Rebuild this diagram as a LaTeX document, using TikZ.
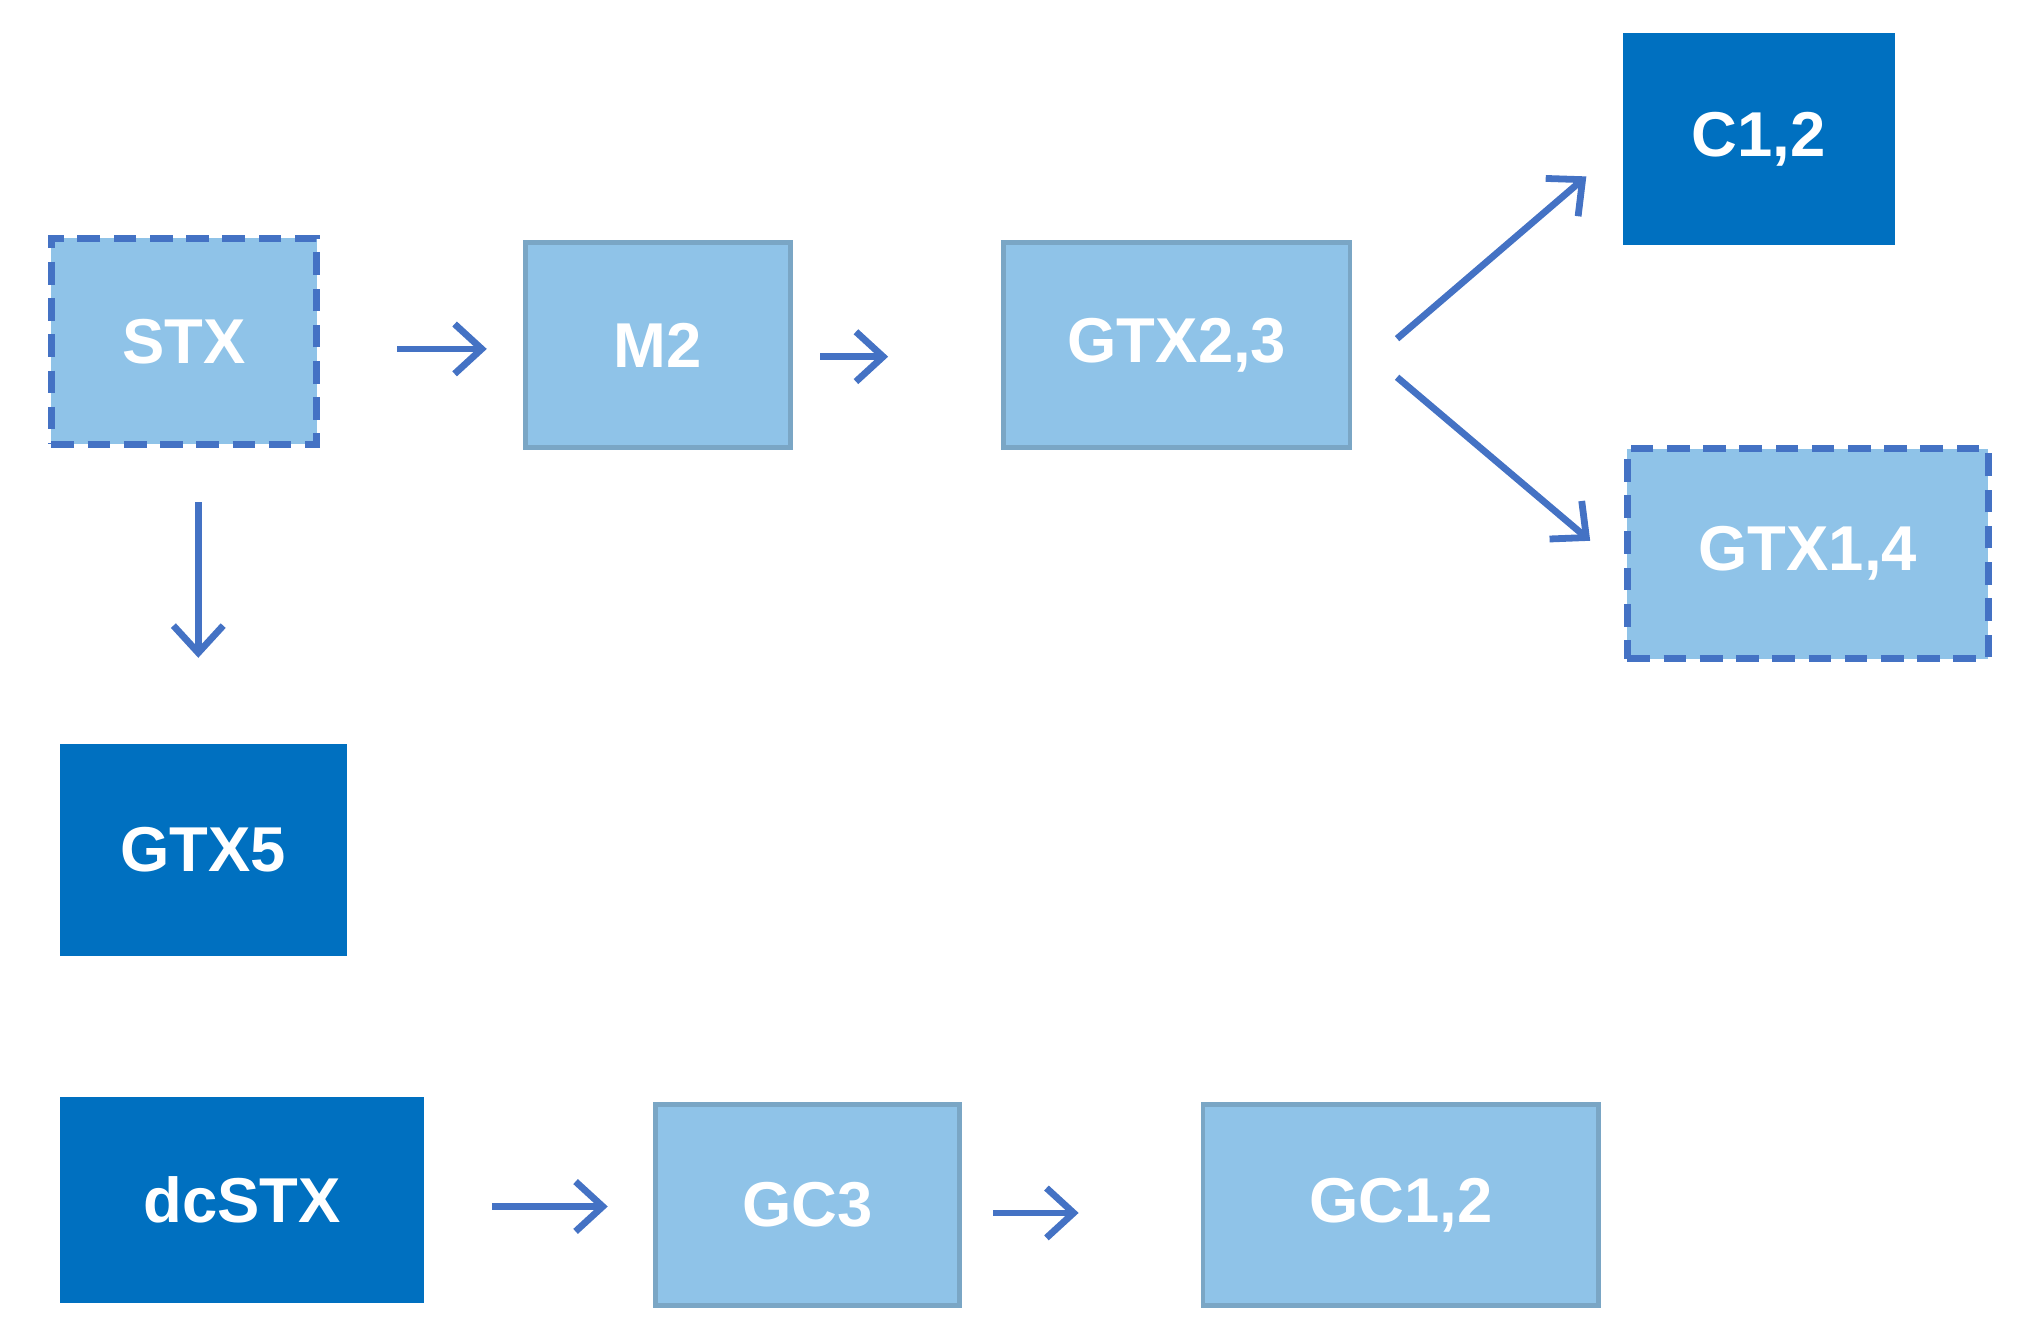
\documentclass[tikz,border=0pt]{standalone}
\usepackage{fontspec}
\setmainfont{Liberation Sans}
\usetikzlibrary{arrows.meta}
\definecolor{lb}{HTML}{8FC3E8}
\definecolor{db}{HTML}{0070C0}
\definecolor{ar}{HTML}{4472C4}
\begin{document}
\begin{tikzpicture}[x=0.01cm,y=-0.01cm,
 box/.style={draw=lb!85!black,line width=1pt,fill=lb,text=white,font=\fontsize{14}{16}\selectfont\bfseries,inner sep=0pt},
 dbox/.style={box,draw=db,fill=db},
 dsh/.style={box,draw=ar,dashed,dash pattern=on 5pt off 3pt,line width=1.5pt},
 arr/.style={draw=ar,line width=1.5pt,-{Straight Barb[length=6pt,width=11pt]}}]
\useasboundingbox (0,0) rectangle (1568,1043);
\node[dsh,minimum width=2.06cm,minimum height=1.6cm] (stx) at (143,265) {STX};
\node[box,minimum width=2.06cm,minimum height=1.59cm] (m2) at (511,268) {M2};
\node[box,minimum width=2.69cm,minimum height=1.59cm] (g23) at (914,268) {GTX2,3};
\node[dbox,minimum width=2.07cm,minimum height=1.61cm] (c12) at (1366,108) {C1,2};
\node[dsh,minimum width=2.8cm,minimum height=1.63cm] (g14) at (1404,430) {GTX1,4};
\node[dbox,minimum width=2.19cm,minimum height=1.61cm] (g5) at (158,660) {GTX5};
\node[dbox,minimum width=2.79cm,minimum height=1.56cm] (dc) at (188,932) {dcSTX};
\node[box,minimum width=2.36cm,minimum height=1.56cm] (gc3) at (627,936) {GC3};
\node[box,minimum width=3.07cm,minimum height=1.56cm] (gc12) at (1088,936) {GC1,2};
\draw[arr,shorten <=17pt,shorten >=8pt] (stx.east|-0,271) -- (m2.west|-0,271);
\draw[arr,shorten <=6pt,shorten >=25pt] (m2.east|-0,277) -- (g23.west|-0,277);
\draw[arr,shorten <=12pt,shorten >=19pt] (stx.south-|154,0) -- (g5.north-|154,0);
\coordinate (a1) at (1085,263); \coordinate (a2) at (1232,137);
\coordinate (b1) at (1085,293); \coordinate (b2) at (1235,420);
\draw[arr] (a1) -- (a2);
\draw[arr] (b1) -- (b2);
\draw[arr,shorten <=15pt,shorten >=10pt] (dc.east|-0,937) -- (gc3.west|-0,937);
\draw[arr,shorten <=7pt,shorten >=27pt] (gc3.east|-0,942) -- (gc12.west|-0,942);
\end{tikzpicture}
\end{document}
